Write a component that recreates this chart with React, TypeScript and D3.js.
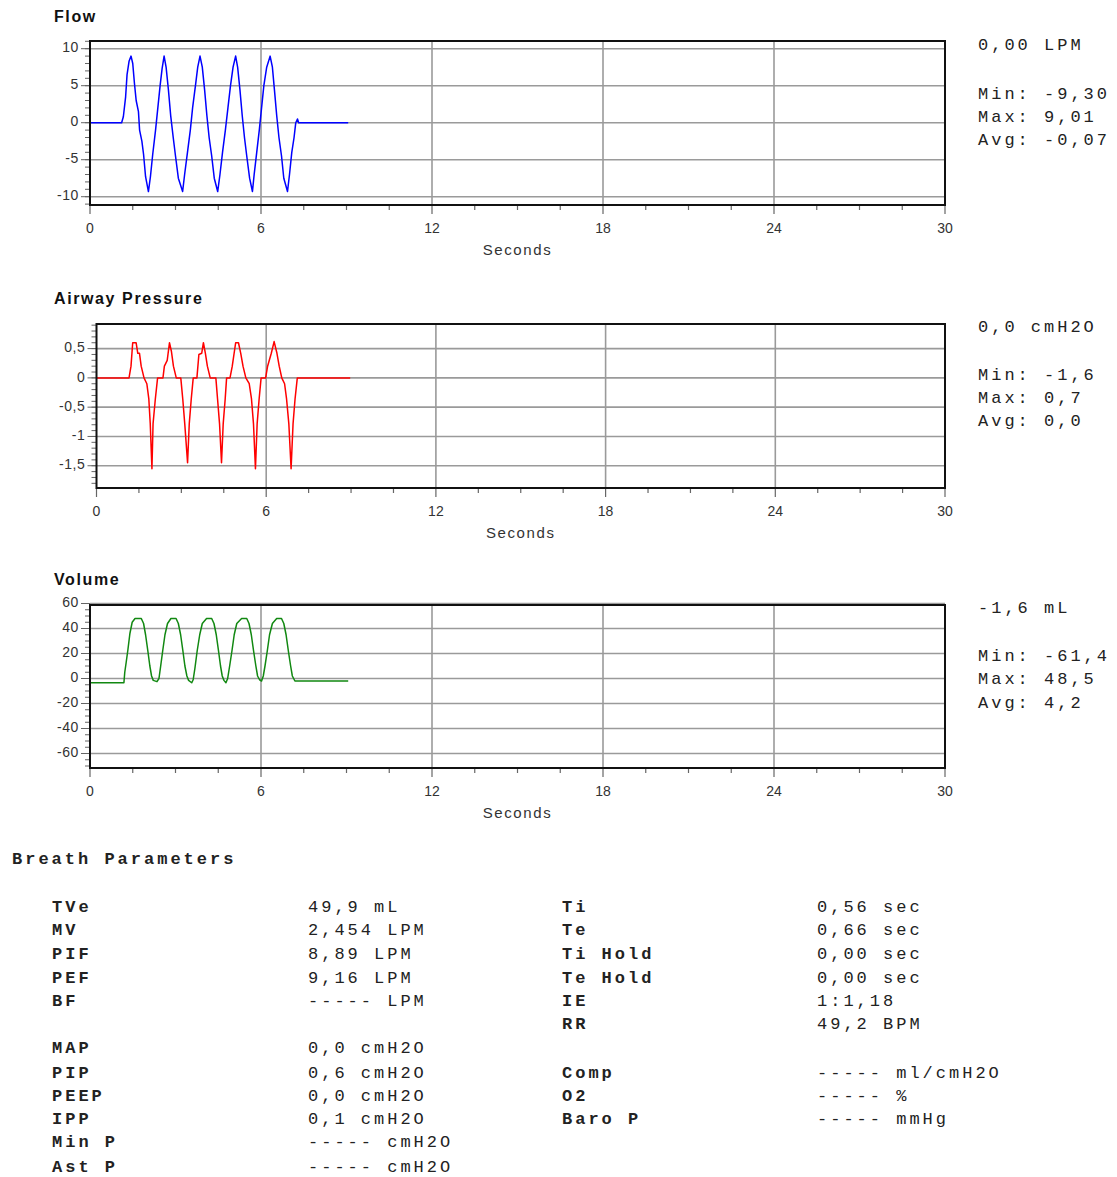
import React from "react";
import * as d3 from "d3";

// ---------- data (time in seconds, value) ----------
const flowSeries: [number, number][] = [
  [0, 0], [1.11, 0], [1.17, 0.8], [1.25, 3.5], [1.3, 6.5], [1.37, 8.3], [1.44, 9.0], [1.5, 8.0],
  [1.56, 5.3], [1.62, 3.0], [1.7, 1.5], [1.74, -1.0], [1.82, -2.5], [1.88, -4.3], [1.95, -7.3],
  [2.05, -9.3], [2.12, -7.3], [2.2, -4.3], [2.3, -1.0], [2.38, 2.0], [2.46, 5.0], [2.53, 7.3],
  [2.6, 9.0], [2.67, 7.5], [2.75, 4.5], [2.83, 1.0], [2.92, -2.0], [3.0, -4.5], [3.1, -7.5],
  [3.25, -9.3], [3.32, -7.0], [3.42, -4.0], [3.52, -1.0], [3.6, 2.0], [3.7, 5.0], [3.78, 7.5],
  [3.86, 9.0], [3.94, 7.5], [4.02, 4.5], [4.1, 1.0], [4.18, -2.0], [4.27, -4.5], [4.36, -7.5],
  [4.48, -9.3], [4.56, -7.0], [4.65, -4.0], [4.75, -1.0], [4.84, 2.0], [4.93, 5.0], [5.02, 7.5],
  [5.11, 9.0], [5.18, 7.5], [5.26, 4.5], [5.34, 1.0], [5.42, -2.0], [5.5, -4.5], [5.6, -7.5],
  [5.7, -9.3], [5.76, -7.0], [5.85, -4.0], [5.94, -1.0], [6.02, 2.0], [6.1, 5.0], [6.2, 7.5],
  [6.32, 9.0], [6.4, 7.5], [6.47, 4.5], [6.55, 1.0], [6.63, -2.0], [6.72, -4.5], [6.8, -7.5],
  [6.93, -9.3], [7.0, -7.0], [7.08, -4.0], [7.16, -2.0], [7.22, 0], [7.28, 0.5], [7.32, 0], [9.06, 0],
];

const pressureSeries: [number, number][] = [
  [0, 0], [1.15, 0], [1.22, 0.2], [1.28, 0.6], [1.4, 0.6], [1.46, 0.42], [1.52, 0.42], [1.58, 0.2],
  [1.68, 0], [1.78, -0.1], [1.85, -0.36], [1.9, -0.78], [1.96, -1.55], [2.0, -0.78], [2.08, -0.36],
  [2.16, 0], [2.35, 0], [2.4, 0.2], [2.5, 0.3], [2.58, 0.6], [2.65, 0.45], [2.72, 0.2], [2.82, 0],
  [2.98, 0], [3.05, -0.36], [3.12, -0.78], [3.22, -1.45], [3.28, -0.78], [3.35, -0.36], [3.42, 0],
  [3.55, 0], [3.62, 0.4], [3.72, 0.42], [3.78, 0.6], [3.85, 0.42], [3.92, 0.2], [4.02, 0],
  [4.22, 0], [4.28, -0.36], [4.35, -0.78], [4.42, -1.45], [4.48, -0.78], [4.55, -0.36], [4.6, 0],
  [4.72, 0], [4.8, 0.2], [4.92, 0.6], [5.02, 0.6], [5.1, 0.42], [5.18, 0.2], [5.28, 0],
  [5.4, -0.1], [5.48, -0.36], [5.55, -0.78], [5.62, -1.55], [5.68, -0.78], [5.75, -0.36], [5.82, 0],
  [5.98, 0], [6.05, 0.2], [6.18, 0.42], [6.28, 0.62], [6.38, 0.42], [6.46, 0.2], [6.55, 0],
  [6.65, -0.1], [6.72, -0.36], [6.8, -0.78], [6.88, -1.55], [6.95, -0.78], [7.02, -0.36], [7.1, 0],
  [8.97, 0],
];

const volumeSeries: [number, number][] = [
  [0, -3.4], [1.19, -3.4], [1.22, 5], [1.27, 13], [1.33, 23], [1.4, 36], [1.48, 45], [1.58, 48],
  [1.8, 48], [1.88, 44], [1.95, 35], [2.03, 22], [2.1, 10], [2.16, 2], [2.22, -1.5], [2.35, -2.5],
  [2.42, 0], [2.48, 10], [2.55, 22], [2.63, 35], [2.72, 44], [2.84, 48], [3.02, 48], [3.1, 44],
  [3.18, 35], [3.26, 22], [3.33, 10], [3.4, 2], [3.46, -1.5], [3.57, -3.4], [3.62, -1], [3.68, 8],
  [3.76, 22], [3.85, 35], [3.94, 44], [4.09, 48], [4.27, 48], [4.35, 44], [4.43, 35], [4.51, 22],
  [4.58, 10], [4.64, 2], [4.7, -1.5], [4.77, -3.4], [4.83, 0], [4.9, 10], [4.98, 22], [5.06, 35],
  [5.15, 44], [5.32, 48], [5.5, 48], [5.58, 44], [5.66, 35], [5.74, 22], [5.82, 10], [5.88, 2],
  [5.95, -1], [6.02, -2], [6.08, 2], [6.14, 10], [6.22, 22], [6.3, 35], [6.4, 44], [6.55, 48],
  [6.72, 48], [6.8, 44], [6.88, 35], [6.96, 22], [7.04, 10], [7.1, 2], [7.19, -2], [9.06, -2],
];

const xTicks = [0, 6, 12, 18, 24, 30];
const flowTicks = [10, 5, 0, -5, -10];
const pressureTicks = [0.5, 0, -0.5, -1, -1.5];
const volumeTicks = [60, 40, 20, 0, -20, -40, -60];

const flowStats = ["0,00 LPM", "Min: -9,30", "Max: 9,01", "Avg: -0,07"];
const pressureStats = ["0,0 cmH2O", "Min: -1,6", "Max: 0,7", "Avg: 0,0"];
const volumeStats = ["-1,6 mL", "Min: -61,4", "Max: 48,5", "Avg: 4,2"];

const leftLabels = ["TVe", "MV", "PIF", "PEF", "BF", "", "MAP", "PIP", "PEEP", "IPP", "Min P", "Ast P"];
const leftValues = ["49,9 mL", "2,454 LPM", "8,89 LPM", "9,16 LPM", "----- LPM", "", "0,0 cmH2O", "0,6 cmH2O", "0,0 cmH2O", "0,1 cmH2O", "----- cmH2O", "----- cmH2O"];
const rightLabels = ["Ti", "Te", "Ti Hold", "Te Hold", "IE", "RR", "", "Comp", "O2", "Baro P"];
const rightValues = ["0,56 sec", "0,66 sec", "0,00 sec", "0,00 sec", "1:1,18", "49,2 BPM", "", "----- ml/cmH2O", "----- %", "----- mmHg"];

const leftRowY = [908, 931, 955, 979, 1002, 0, 1049, 1074, 1097, 1120, 1143, 1168];
const rightRowY = [908, 931, 955, 979, 1002, 1025, 0, 1074, 1097, 1120];

const SANS = "Arial, 'Liberation Sans', sans-serif";
const MONO = "'Courier New', 'Liberation Mono', monospace";
const MONO_SPACING = 3.0;
const MONO_SIZE = 17;

const fmt = (v: number) => String(v).replace(".", ",");

type PanelProps = {
  title: string;
  titleY: number;
  left: number;
  top: number;
  bottom: number;
  yDomain: [number, number];
  yTicks: number[];
  minorStep: number;
  data: [number, number][];
  color: string;
  stats: string[];
  statsY: number[];
};

function Panel(p: PanelProps) {
  const right = 945;
  const x = d3.scaleLinear().domain([0, 30]).range([p.left, right]);
  const y = d3.scaleLinear().domain(p.yDomain).range([p.bottom, p.top]);
  const line = d3.line<[number, number]>().x((d) => x(d[0])).y((d) => y(d[1]));
  const minor: number[] = [];
  const start = Math.ceil(p.yDomain[0] / p.minorStep);
  const end = Math.floor(p.yDomain[1] / p.minorStep);
  for (let i = start; i <= end; i++) minor.push(i * p.minorStep);
  const xMinor = d3.range(0, 30.01, 1.5);
  const grid = "#9a9a9a";
  return (
    <g>
      <text x={54} y={p.titleY} fontFamily={SANS} fontWeight="bold" fontSize={16} letterSpacing={1.6} fill="#111" dominantBaseline="middle">
        {p.title}
      </text>
      {p.yTicks.map((t) => (
        <line key={"hg" + t} x1={p.left} x2={right} y1={y(t)} y2={y(t)} stroke={grid} strokeWidth={1.6} />
      ))}
      {xTicks.slice(1, -1).map((t) => (
        <line key={"vg" + t} x1={x(t)} x2={x(t)} y1={p.top} y2={p.bottom} stroke={grid} strokeWidth={1.6} />
      ))}
      {minor.map((t, i) => (
        <line key={"ym" + i} x1={p.left - 5} x2={p.left} y1={y(t)} y2={y(t)} stroke="#666" strokeWidth={1} />
      ))}
      {p.yTicks.map((t) => (
        <g key={"yt" + t}>
          <line x1={p.left - 9} x2={p.left} y1={y(t)} y2={y(t)} stroke="#666" strokeWidth={1} />
          <text x={p.left - 11} y={y(t)} textAnchor="end" dominantBaseline="middle" fontFamily={SANS} fontSize={14} letterSpacing={0.6} fill="#333">
            {fmt(t)}
          </text>
        </g>
      ))}
      {xMinor.map((t, i) => (
        <line key={"xm" + i} x1={x(t)} x2={x(t)} y1={p.bottom} y2={p.bottom + (t % 6 === 0 ? 9 : 5)} stroke="#666" strokeWidth={1.2} />
      ))}
      {xTicks.map((t) => (
        <text key={"xt" + t} x={x(t)} y={p.bottom + 24} textAnchor="middle" dominantBaseline="middle" fontFamily={SANS} fontSize={14} fill="#333">
          {t}
        </text>
      ))}
      <text x={(p.left + right) / 2} y={p.bottom + 46} textAnchor="middle" dominantBaseline="middle" fontFamily={SANS} fontSize={15} letterSpacing={1.6} fill="#333">
        Seconds
      </text>
      <path d={line(p.data) || ""} fill="none" stroke={p.color} strokeWidth={1.5} strokeLinejoin="round" />
      <rect x={p.left} y={p.top} width={right - p.left} height={p.bottom - p.top} fill="none" stroke="#111" strokeWidth={2} />
      {p.stats.map((s, i) => (
        <text key={"st" + i} x={978} y={p.statsY[i]} dominantBaseline="middle" fontFamily={MONO} fontSize={MONO_SIZE} letterSpacing={MONO_SPACING} fill="#222" style={{ whiteSpace: "pre" }}>
          {s}
        </text>
      ))}
    </g>
  );
}

export default function App() {
  return (
    <svg width={1117} height={1177} style={{ position: "absolute", left: 0, top: 0, background: "#fff" }}>
      <rect x={0} y={0} width={1117} height={1177} fill="#fff" />
      <Panel title="Flow" titleY={18} left={90} top={41} bottom={205} yDomain={[-11.12, 11.04]} yTicks={flowTicks} minorStep={1} data={flowSeries} color="#0000ff" stats={flowStats} statsY={[46, 95, 118, 141]} />
      <Panel title="Airway Pressure" titleY={300} left={96.5} top={324} bottom={488} yDomain={[-1.88, 0.92]} yTicks={pressureTicks} minorStep={0.1} data={pressureSeries} color="#ff0000" stats={pressureStats} statsY={[328, 376, 399, 422]} />
      <Panel title="Volume" titleY={581} left={90} top={605} bottom={768} yDomain={[-71.6, 58.8]} yTicks={volumeTicks} minorStep={5} data={volumeSeries} color="#118811" stats={volumeStats} statsY={[609, 657, 680, 704]} />
      <text x={12} y={860} dominantBaseline="middle" fontFamily={MONO} fontWeight="bold" fontSize={MONO_SIZE} letterSpacing={MONO_SPACING} fill="#222" style={{ whiteSpace: "pre" }}>
        Breath Parameters
      </text>
      {leftLabels.map((l, i) =>
        l ? (
          <g key={"l" + i}>
            <text x={52} y={leftRowY[i]} dominantBaseline="middle" fontFamily={MONO} fontWeight="bold" fontSize={MONO_SIZE} letterSpacing={MONO_SPACING} fill="#222" style={{ whiteSpace: "pre" }}>
              {l}
            </text>
            <text x={308} y={leftRowY[i]} dominantBaseline="middle" fontFamily={MONO} fontSize={MONO_SIZE} letterSpacing={MONO_SPACING} fill="#222" style={{ whiteSpace: "pre" }}>
              {leftValues[i]}
            </text>
          </g>
        ) : null
      )}
      {rightLabels.map((l, i) =>
        l ? (
          <g key={"r" + i}>
            <text x={562} y={rightRowY[i]} dominantBaseline="middle" fontFamily={MONO} fontWeight="bold" fontSize={MONO_SIZE} letterSpacing={MONO_SPACING} fill="#222" style={{ whiteSpace: "pre" }}>
              {l}
            </text>
            <text x={817} y={rightRowY[i]} dominantBaseline="middle" fontFamily={MONO} fontSize={MONO_SIZE} letterSpacing={MONO_SPACING} fill="#222" style={{ whiteSpace: "pre" }}>
              {rightValues[i]}
            </text>
          </g>
        ) : null
      )}
    </svg>
  );
}
